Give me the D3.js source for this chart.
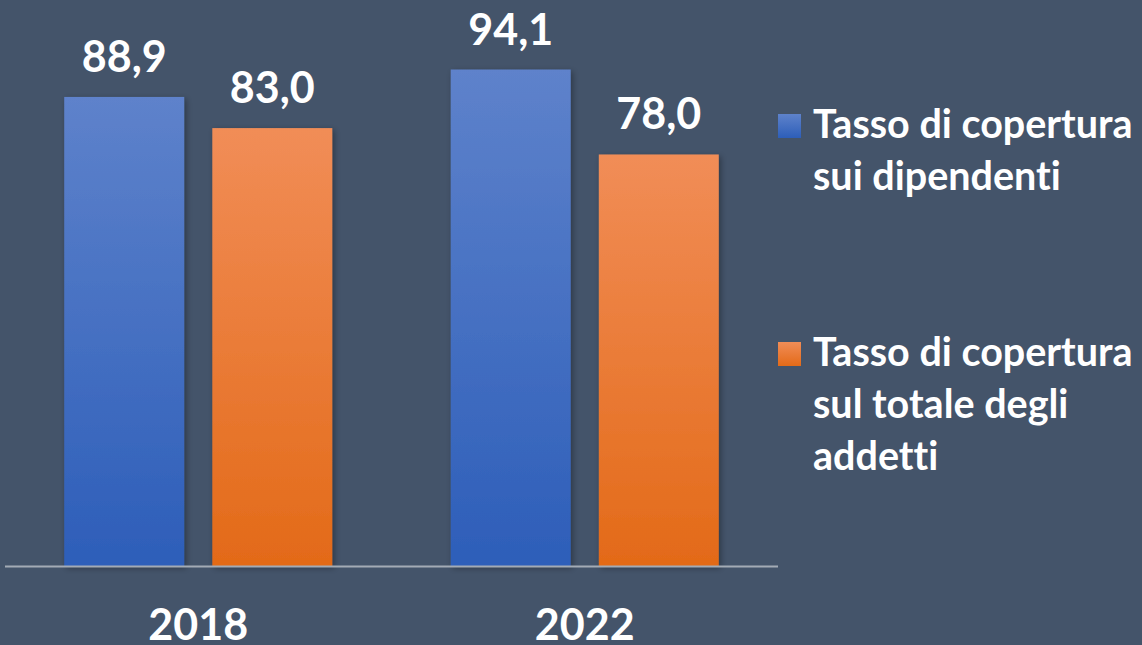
<!DOCTYPE html>
<html>
<head>
<meta charset="utf-8">
<script src="https://cdn.jsdelivr.net/npm/d3@7"></script>
<style>
  html, body { margin: 0; padding: 0; background: #44546a; }
  svg { display: block; }
  text { font-family: Lato, "Open Sans", sans-serif; font-weight: 700; fill: #fff; font-variant-ligatures: none; }
</style>
</head>
<body>
<div id="chart"></div>
<script>
const years = ['2018', '2022']
const series = ['Tasso di copertura sui dipendenti', 'Tasso di copertura sul totale degli addetti']
const legendLines = [['Tasso di copertura', 'sui dipendenti'], ['Tasso di copertura', 'sul totale degli', 'addetti']]
const dipendenti = [88.9, 94.1]
const addetti = [83.0, 78.0]

const width = 1142
const height = 645

const svg = d3.select('#chart')
  .append('svg')
  .attr('width', width)
  .attr('height', height)

svg.append('rect')
  .attr('width', width)
  .attr('height', height)
  .attr('fill', '#44546a')

const defs = svg.append('defs')

const grads = [
  { id: 'gBlue', top: '#5e82cb', bottom: '#2d5eb9' },
  { id: 'gOrange', top: '#f18d57', bottom: '#e36a18' }
]
grads.forEach(g => {
  const lg = defs.append('linearGradient')
    .attr('id', g.id)
    .attr('x1', 0).attr('y1', 0).attr('x2', 0).attr('y2', 1)
  lg.append('stop').attr('offset', '0%').attr('stop-color', g.top)
  lg.append('stop').attr('offset', '100%').attr('stop-color', g.bottom)
})

defs.append('filter')
  .attr('id', 'shadow')
  .attr('x', '-20%').attr('y', '-20%').attr('width', '140%').attr('height', '140%')
  .append('feDropShadow')
  .attr('dx', 2).attr('dy', 2)
  .attr('stdDeviation', 3)
  .attr('flood-color', '#000')
  .attr('flood-opacity', 0.35)

// scales
const x0 = d3.scaleBand()
  .domain(years)
  .range([5, 778])

const x1 = d3.scaleBand()
  .domain(series)
  .range([0, x0.bandwidth()])
  .paddingInner(0.19)
  .paddingOuter(0.4)

const y = d3.scaleLinear()
  .domain([0, 100])
  .range([566, 38.4])

const color = d3.scaleOrdinal()
  .domain(series)
  .range(['url(#gBlue)', 'url(#gOrange)'])

const data = years.map((yr, i) => ({
  year: yr,
  values: [
    { key: series[0], value: dipendenti[i] },
    { key: series[1], value: addetti[i] }
  ]
}))

const groups = svg.selectAll('.group')
  .data(data)
  .enter()
  .append('g')
  .attr('class', 'group')
  .attr('transform', d => `translate(${x0(d.year)},0)`)

groups.selectAll('rect')
  .data(d => d.values)
  .enter()
  .append('rect')
  .attr('x', d => x1(d.key))
  .attr('y', d => y(d.value))
  .attr('width', x1.bandwidth())
  .attr('height', d => y(0) - y(d.value))
  .attr('fill', d => color(d.key))
  .attr('filter', 'url(#shadow)')

groups.selectAll('.label')
  .data(d => d.values)
  .enter()
  .append('text')
  .attr('class', 'label')
  .attr('x', d => x1(d.key) + x1.bandwidth() / 2)
  .attr('y', d => y(d.value) - 25)
  .attr('text-anchor', 'middle')
  .style('font-size', '43px')
  .text(d => d.value.toFixed(1).replace('.', ','))

// baseline
svg.append('line')
  .attr('x1', 5).attr('x2', 778)
  .attr('y1', y(0) + 0.5).attr('y2', y(0) + 0.5)
  .attr('stroke', '#a3abb5')
  .attr('stroke-width', 2)

// x axis labels
svg.selectAll('.year')
  .data(years)
  .enter()
  .append('text')
  .attr('class', 'year')
  .attr('x', d => x0(d) + x0.bandwidth() / 2)
  .attr('y', 640)
  .attr('text-anchor', 'middle')
  .style('font-size', '43px')
  .text(d => d)

// legend
const legendY = [114, 342]
const legend = svg.selectAll('.legend')
  .data(series)
  .enter()
  .append('g')
  .attr('class', 'legend')
  .attr('transform', (d, i) => `translate(778,${legendY[i]})`)

legend.append('rect')
  .attr('width', 23)
  .attr('height', 24)
  .attr('fill', d => color(d))

legend.append('text')
  .attr('x', 35)
  .attr('y', 24)
  .style('font-size', '39.5px')
  .selectAll('tspan')
  .data((d, i) => legendLines[i])
  .enter()
  .append('tspan')
  .attr('x', 35)
  .attr('dy', (d, i) => i === 0 ? 0 : 52)
  .text(d => d)
</script>
</body>
</html>
